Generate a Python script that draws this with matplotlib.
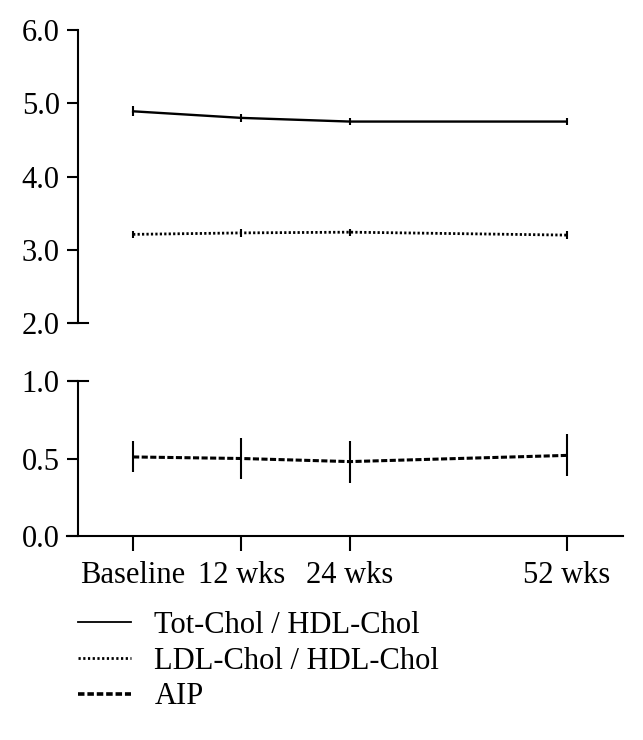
import numpy as np
import matplotlib.pyplot as plt
from matplotlib.lines import Line2D

plt.rcParams['font.family'] = ['Liberation Serif', 'DejaVu Serif']

# data
timepoints = ['Baseline', '12 wks', '24 wks', '52 wks']
x_pos = [0, 1, 2, 4]  # spacing as drawn on the chart

tot_hdl = [4.89, 4.80, 4.75, 4.75]
tot_hdl_err = [0.07, 0.05, 0.05, 0.05]
ldl_hdl = [3.21, 3.23, 3.24, 3.20]
ldl_hdl_err = [0.05, 0.05, 0.05, 0.05]
aip = [0.51, 0.50, 0.48, 0.52]
aip_err = [0.10, 0.13, 0.135, 0.135]

FS = 22
LW = 1.5
XLIM = (-0.61, 4.52)
SPINE_X = -0.51

fig = plt.figure(figsize=(6.43, 7.40), dpi=100)
ax_top = fig.add_axes([67/643, 1 - 323/740, (623 - 67)/643, (323 - 30)/740])
ax_bot = fig.add_axes([67/643, 1 - 536/740, (623 - 67)/643, (536 - 381)/740])

ax_top.errorbar(x_pos, tot_hdl, yerr=tot_hdl_err, color='black', lw=1.7,
                elinewidth=LW, capsize=0, linestyle='-')
ax_top.errorbar(x_pos, ldl_hdl, yerr=ldl_hdl_err, color='black', lw=2.0,
                elinewidth=LW, capsize=0, linestyle=(0, (0.8, 0.8)))
ax_bot.errorbar(x_pos, aip, yerr=aip_err, color='black', lw=2.2,
                elinewidth=LW, capsize=0, linestyle=(0, (2.0, 0.8)))

for ax in (ax_top, ax_bot):
    ax.set_xlim(*XLIM)
    ax.spines['top'].set_visible(False)
    ax.spines['right'].set_visible(False)
    ax.spines['left'].set_position(('data', SPINE_X))
    ax.spines['left'].set_linewidth(LW)
    ax.spines['bottom'].set_linewidth(LW)
    ax.tick_params(axis='y', direction='out', length=8, width=LW,
                   labelsize=FS, pad=5)
    ax.patch.set_alpha(0)

ax_top.set_ylim(2.0, 6.0)
ax_top.set_yticks([2.0, 3.0, 4.0, 5.0, 6.0])
ax_top.set_yticklabels(['2.0', '3.0', '4.0', '5.0', '6.0'])
ax_top.spines['bottom'].set_visible(False)
ax_top.set_xticks([])
# break markers crossing the spine
ax_top.plot([SPINE_X - 0.08, SPINE_X + 0.09], [2.0, 2.0], color='black',
            lw=LW, clip_on=False)

ax_bot.set_ylim(0.0, 1.0)
ax_bot.set_yticks([0.0, 0.5, 1.0])
ax_bot.set_yticklabels(['0.0', '0.5', '1.0'])
ax_bot.set_xticks(x_pos)
ax_bot.set_xticklabels(timepoints)
ax_bot.tick_params(axis='x', direction='out', length=11, width=LW,
                   labelsize=FS, pad=7)
ax_bot.plot([SPINE_X - 0.08, SPINE_X + 0.09], [1.0, 1.0], color='black',
            lw=LW, clip_on=False)

handles = [
    Line2D([], [], color='black', lw=1.3, linestyle='-'),
    Line2D([], [], color='black', lw=2.0, linestyle=(0, (0.8, 0.9))),
    Line2D([], [], color='black', lw=2.6, linestyle=(0, (1.8, 0.8))),
]
labels = ['Tot-Chol / HDL-Chol', 'LDL-Chol / HDL-Chol', 'AIP']
fig.legend(handles, labels, loc='upper left',
           bbox_to_anchor=(78/643, 1 - 611/740), frameon=False,
           fontsize=FS, handlelength=1.75, handletextpad=0.75,
           labelspacing=0.22, borderaxespad=0, borderpad=0)

fig.savefig('out.png', dpi=100)
